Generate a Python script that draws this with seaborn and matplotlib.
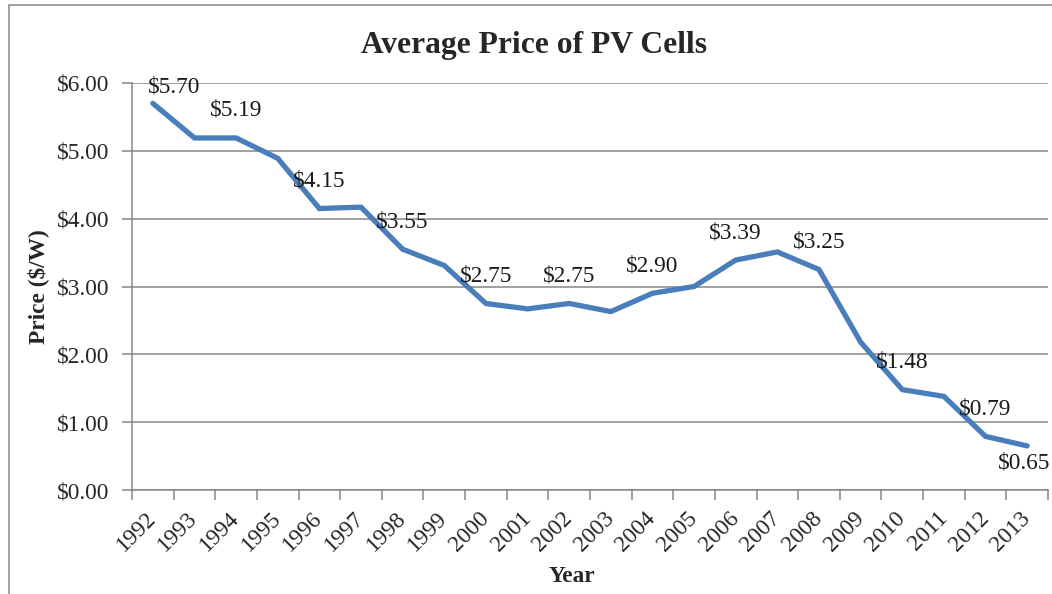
import numpy as np
import pandas as pd
import matplotlib
matplotlib.use("Agg")
import matplotlib.pyplot as plt
import matplotlib.patches as mp
import seaborn as sns

# data
years = [1992, 1993, 1994, 1995, 1996, 1997, 1998, 1999, 2000, 2001, 2002,
         2003, 2004, 2005, 2006, 2007, 2008, 2009, 2010, 2011, 2012, 2013]
prices = [5.70, 5.19, 5.19, 4.89, 4.15, 4.17, 3.55, 3.31, 2.75, 2.67, 2.75,
          2.63, 2.90, 3.00, 3.39, 3.51, 3.25, 2.18, 1.48, 1.38, 0.79, 0.65]
# which points carry a data label
labelled = [1992, 1994, 1996, 1998, 2000, 2002, 2004, 2006, 2008, 2010, 2012, 2013]

df = pd.DataFrame({"pos": np.arange(len(years)), "price": prices})

sns.set_style("white")
plt.rcParams["font.family"] = ["Liberation Serif", "DejaVu Serif"]

GRAY = "#868686"
BLUE = "#4a7ebb"

fig = plt.figure(figsize=(10.52, 5.94), dpi=100)
ax = fig.add_axes([132 / 1052, 1 - 490 / 594, (1048 - 132) / 1052, (490 - 83) / 594])

sns.lineplot(data=df, x="pos", y="price", ax=ax, color=BLUE, linewidth=3.8,
             solid_joinstyle="miter", solid_capstyle="round")

ax.set_xlim(-0.5, len(years) - 0.5)
ax.set_ylim(0, 6)

# y axis
ax.set_yticks(np.arange(0, 7, 1))
ax.set_yticklabels(["${:.2f}".format(v) for v in np.arange(0, 7, 1)], fontsize=16.8)
ax.yaxis.grid(True, color=GRAY, linewidth=1.1)
ax.tick_params(axis="y", length=7, width=1.1, color=GRAY, pad=9, direction="out", left=True)

# x axis: labels at category centres, tick marks at the boundaries
ax.set_xticks(np.arange(len(years)))
ax.set_xticklabels([str(y) for y in years], fontsize=16.8, rotation=45,
                   ha="right", va="center", rotation_mode="anchor")
ax.set_xticks(np.arange(-0.5, len(years), 1), minor=True)
ax.tick_params(axis="x", which="major", length=0, pad=18)
ax.tick_params(axis="x", which="minor", length=7, width=1.1, color=GRAY,
               direction="out", bottom=True)

for side in ["top", "right"]:
    ax.spines[side].set_visible(False)
for side in ["left", "bottom"]:
    ax.spines[side].set_color(GRAY)
    ax.spines[side].set_linewidth(1.1)

ax.set_xlabel("Year", fontsize=16.8, fontweight="bold")
ax.xaxis.set_label_coords((572 - 132) / (1048 - 132), -(582 - 490) / (490 - 83))
ax.xaxis.label.set_va("baseline")
ax.set_ylabel("Price ($/W)", fontsize=16.8, fontweight="bold", labelpad=6)

# data labels
for yr in labelled:
    i = years.index(yr)
    if yr == 1992:
        dx, dy, ha = -5, 11, "left"
    elif yr == 2013:
        dx, dy, ha = -3, -23, "center"
    else:
        dx, dy, ha = 0, 22, "center"
    ax.annotate("${:.2f}".format(prices[i]), (i, prices[i]), xytext=(dx, dy),
                textcoords="offset pixels", ha=ha, va="baseline",
                fontsize=16.8, color="#1a1a1a", annotation_clip=False)

fig.text(534 / 1052, 1 - 53 / 594, "Average Price of PV Cells", fontsize=22.7,
         fontweight="bold", ha="center", va="baseline")

# chart area border (right and bottom run off the picture)
fig.patches.append(mp.Rectangle((8.5 / 1052, -0.05), 1.1, 1.05 - 4.5 / 594,
                                transform=fig.transFigure, fill=False,
                                edgecolor=GRAY, linewidth=1.1))

fig.savefig("out.png", dpi=100)
